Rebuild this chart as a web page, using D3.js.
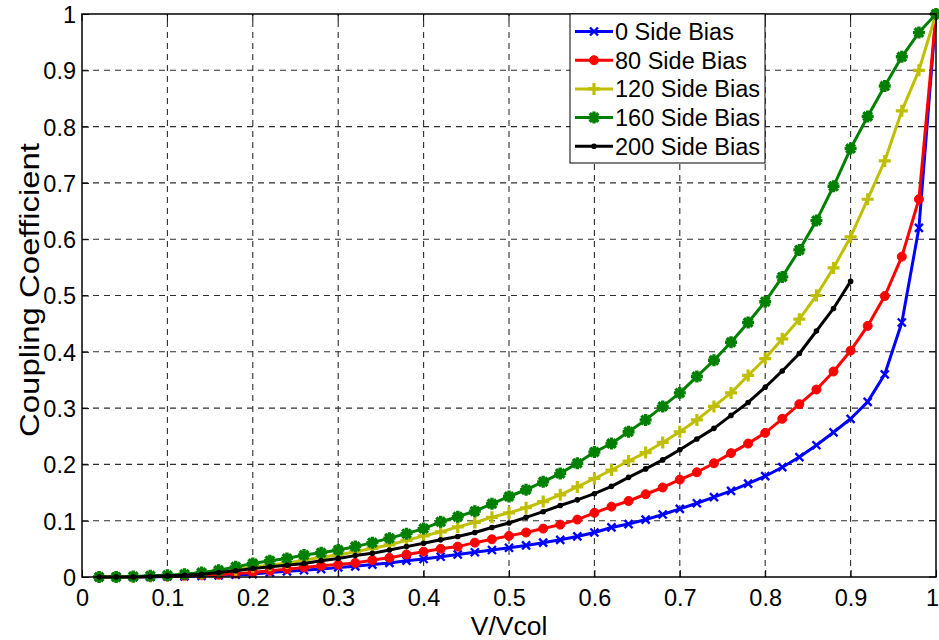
<!DOCTYPE html>
<html>
<head>
<meta charset="utf-8">
<script src="https://d3js.org/d3.v7.min.js"></script>
<style>
  body { margin: 0; background: #fff; }
  svg { font-family: "Liberation Sans", Arial, sans-serif; }
</style>
</head>
<body>
<div id="chart"></div>
<script>
// V/Vcol sample points
var vRatio = [0.02, 0.04, 0.06, 0.08, 0.10, 0.12, 0.14, 0.16, 0.18, 0.20,
              0.22, 0.24, 0.26, 0.28, 0.30, 0.32, 0.34, 0.36, 0.38, 0.40,
              0.42, 0.44, 0.46, 0.48, 0.50, 0.52, 0.54, 0.56, 0.58, 0.60,
              0.62, 0.64, 0.66, 0.68, 0.70, 0.72, 0.74, 0.76, 0.78, 0.80,
              0.82, 0.84, 0.86, 0.88, 0.90, 0.92, 0.94, 0.96, 0.98, 1.00];

var bias0 = [0, 0, 0, 0, 0.001, 0.001, 0.002, 0.003, 0.004, 0.005,
             0.008, 0.010, 0.012, 0.014, 0.017, 0.019, 0.022, 0.025, 0.029, 0.032,
             0.036, 0.040, 0.044, 0.048, 0.052, 0.056, 0.061, 0.066, 0.072, 0.079,
             0.088, 0.094, 0.102, 0.111, 0.121, 0.131, 0.142, 0.153, 0.166, 0.179,
             0.195, 0.213, 0.234, 0.257, 0.281, 0.311, 0.360, 0.452, 0.620, 1.0];

var bias80 = [0, 0, 0, 0.001, 0.001, 0.002, 0.003, 0.004, 0.006, 0.008,
              0.011, 0.014, 0.017, 0.020, 0.022, 0.025, 0.030, 0.034, 0.040, 0.045,
              0.050, 0.054, 0.061, 0.067, 0.073, 0.079, 0.086, 0.093, 0.102, 0.114,
              0.125, 0.135, 0.147, 0.159, 0.173, 0.186, 0.202, 0.220, 0.237, 0.256,
              0.281, 0.307, 0.333, 0.365, 0.402, 0.446, 0.499, 0.569, 0.671, 1.0];

var bias120 = [0, 0, 0, 0.001, 0.002, 0.004, 0.006, 0.009, 0.013, 0.018,
               0.021, 0.025, 0.030, 0.035, 0.039, 0.045, 0.051, 0.057, 0.065, 0.073,
               0.080, 0.089, 0.097, 0.106, 0.114, 0.123, 0.134, 0.146, 0.160, 0.175,
               0.190, 0.206, 0.221, 0.239, 0.258, 0.279, 0.303, 0.327, 0.358, 0.388,
               0.423, 0.458, 0.500, 0.549, 0.604, 0.671, 0.739, 0.828, 0.900, 1.0];

var bias160 = [0, 0, 0.001, 0.002, 0.003, 0.005, 0.008, 0.012, 0.018, 0.024,
               0.029, 0.033, 0.039, 0.043, 0.048, 0.054, 0.061, 0.069, 0.077, 0.086,
               0.098, 0.107, 0.117, 0.130, 0.143, 0.155, 0.169, 0.184, 0.202, 0.222,
               0.237, 0.258, 0.279, 0.303, 0.327, 0.356, 0.385, 0.417, 0.452, 0.489,
               0.533, 0.581, 0.633, 0.694, 0.761, 0.818, 0.872, 0.924, 0.967, 1.0];

// 200 side bias stops at 0.9
var bias200 = [0, 0, 0, 0.001, 0.002, 0.003, 0.005, 0.008, 0.011, 0.015,
               0.018, 0.021, 0.024, 0.029, 0.033, 0.038, 0.042, 0.048, 0.054, 0.060,
               0.066, 0.072, 0.079, 0.088, 0.096, 0.106, 0.116, 0.127, 0.137, 0.148,
               0.161, 0.177, 0.192, 0.208, 0.226, 0.245, 0.264, 0.287, 0.310, 0.337,
               0.366, 0.397, 0.437, 0.477, 0.525];

var seriesNames = ['0 Side Bias', '80 Side Bias', '120 Side Bias', '160 Side Bias', '200 Side Bias'];
var xTicks = [0, 0.1, 0.2, 0.3, 0.4, 0.5, 0.6, 0.7, 0.8, 0.9, 1];
var yTicks = [0, 0.1, 0.2, 0.3, 0.4, 0.5, 0.6, 0.7, 0.8, 0.9, 1];

var series = [
  {name: seriesNames[0], values: bias0,   color: '#0000ff', marker: 'x'},
  {name: seriesNames[1], values: bias80,  color: '#ff0000', marker: 'o'},
  {name: seriesNames[2], values: bias120, color: '#bfbf00', marker: '+'},
  {name: seriesNames[3], values: bias160, color: '#008000', marker: '*'},
  {name: seriesNames[4], values: bias200, color: '#000000', marker: '.'}
];

var width = 939,
    height = 640,
    margin = {top: 14, right: 3, bottom: 63, left: 82};

var x = d3.scaleLinear().domain([0, 1]).range([margin.left, width - margin.right]);
var y = d3.scaleLinear().domain([0, 1]).range([height - margin.bottom, margin.top]);

var svg = d3.select('#chart').append('svg')
  .attr('width', width)
  .attr('height', height);

// dashed grid
var grid = svg.append('g').attr('class', 'grid');
grid.selectAll('line.gx')
  .data(xTicks.slice(1, -1))
  .enter().append('line')
  .attr('class', 'gx')
  .attr('x1', function(d) { return x(d); })
  .attr('x2', function(d) { return x(d); })
  .attr('y1', y(0))
  .attr('y2', y(1));

grid.selectAll('line.gy')
  .data(yTicks.slice(1, -1))
  .enter().append('line')
  .attr('class', 'gy')
  .attr('x1', x(0))
  .attr('x2', x(1))
  .attr('y1', function(d) { return y(d); })
  .attr('y2', function(d) { return y(d); });

grid.selectAll('line')
  .style('stroke', '#2e2e2e')
  .style('stroke-width', 1.1)
  .style('stroke-dasharray', '6,5');

// axes
var xAxis = d3.axisBottom(x).tickValues(xTicks).tickSize(-7).tickPadding(12)
  .tickFormat(function(d) { return d3.format('')(d); });
var yAxis = d3.axisLeft(y).tickValues(yTicks).tickSize(-7).tickPadding(6)
  .tickFormat(function(d) { return d3.format('')(d); });

var gx = svg.append('g')
  .attr('transform', 'translate(0,' + y(0) + ')')
  .call(xAxis);
var gy = svg.append('g')
  .attr('transform', 'translate(' + x(0) + ',0)')
  .call(yAxis);

[gx, gy].forEach(function(g) {
  g.select('.domain').remove();
  g.selectAll('.tick line').style('stroke', '#000').style('stroke-width', 1);
  g.selectAll('.tick text')
    .style('font-size', '23.5px')
    .style('font-family', '"Liberation Sans", Arial, sans-serif')
    .style('fill', '#000');
});
gx.selectAll('.tick text').attr('dy', '0.71em');
gy.selectAll('.tick text').attr('dy', '0.36em');
// last x label sits at the figure edge
gx.selectAll('.tick text').filter(function(d) { return d === 1; }).attr('dx', -4);

// top/right ticks
svg.append('g').selectAll('line')
  .data(xTicks)
  .enter().append('line')
  .attr('x1', function(d) { return x(d); })
  .attr('x2', function(d) { return x(d); })
  .attr('y1', y(1))
  .attr('y2', y(1) + 7)
  .style('stroke', '#000');
svg.append('g').selectAll('line')
  .data(yTicks)
  .enter().append('line')
  .attr('x1', x(1))
  .attr('x2', x(1) - 7)
  .attr('y1', function(d) { return y(d); })
  .attr('y2', function(d) { return y(d); })
  .style('stroke', '#000');

// lines
var line = d3.line()
  .x(function(d, i) { return x(vRatio[i]); })
  .y(function(d) { return y(d); });

function drawMarker(g, type, color) {
  if (type === 'o') {
    g.append('circle').attr('r', 4.5).style('fill', color).style('stroke', color);
  } else if (type === '.') {
    g.append('circle').attr('r', 2.8).style('fill', color);
  } else if (type === 'x') {
    g.append('path').attr('d', 'M-4,-4L4,4M-4,4L4,-4')
      .style('stroke', color).style('stroke-width', 2.4).style('fill', 'none');
  } else if (type === '+') {
    g.append('path').attr('d', 'M-6,0L6,0M0,-6L0,6')
      .style('stroke', color).style('stroke-width', 3.2).style('fill', 'none');
  } else if (type === '*') {
    g.append('path').attr('d', 'M-6,0L6,0M0,-6L0,6M-4.3,-4.3L4.3,4.3M-4.3,4.3L4.3,-4.3')
      .style('stroke', color).style('stroke-width', 3.4).style('fill', 'none');
  }
}

var plot = svg.append('g');
series.forEach(function(s) {
  var sg = plot.append('g').attr('class', 'series');
  sg.append('path')
    .datum(s.values)
    .attr('d', line)
    .style('fill', 'none')
    .style('stroke', s.color)
    .style('stroke-width', 3)
    .style('stroke-linejoin', 'round');
  sg.selectAll('g.mk')
    .data(s.values)
    .enter().append('g')
    .attr('class', 'mk')
    .attr('transform', function(d, i) { return 'translate(' + x(vRatio[i]) + ',' + y(d) + ')'; })
    .each(function() { drawMarker(d3.select(this), s.marker, s.color); });
});

// axes box
svg.append('rect')
  .attr('x', x(0))
  .attr('y', y(1))
  .attr('width', x(1) - x(0))
  .attr('height', y(0) - y(1))
  .style('fill', 'none')
  .style('stroke', '#000')
  .style('stroke-width', 1.5);

// axis labels
svg.append('text')
  .attr('x', (x(0) + x(1)) / 2)
  .attr('y', 635)
  .attr('text-anchor', 'middle')
  .style('font-size', '26.5px')
  .text('V/Vcol');

svg.append('text')
  .attr('transform', 'translate(39,290) rotate(-90)')
  .attr('text-anchor', 'middle')
  .attr('textLength', 294)
  .attr('lengthAdjust', 'spacingAndGlyphs')
  .style('font-size', '27px')
  .text('Coupling Coefficient');

// legend
var legend = svg.append('g').attr('class', 'legend');
legend.append('rect')
  .attr('x', 570)
  .attr('y', 14)
  .attr('width', 195)
  .attr('height', 149)
  .style('fill', '#fff')
  .style('stroke', '#000')
  .style('stroke-width', 1);

var items = legend.selectAll('.item')
  .data(series)
  .enter().append('g')
  .attr('class', 'item')
  .attr('transform', function(d, i) { return 'translate(0,' + (31.5 + i * 28.7) + ')'; });

items.append('line')
  .attr('x1', 575)
  .attr('x2', 613)
  .style('stroke', function(d) { return d.color; })
  .style('stroke-width', 3);
items.append('g')
  .attr('transform', 'translate(594,0)')
  .each(function(d) { drawMarker(d3.select(this), d.marker, d.color); });
items.append('text')
  .attr('x', 615)
  .attr('dy', '0.36em')
  .style('font-size', '23.5px')
  .text(function(d) { return d.name; });
</script>
</body>
</html>
